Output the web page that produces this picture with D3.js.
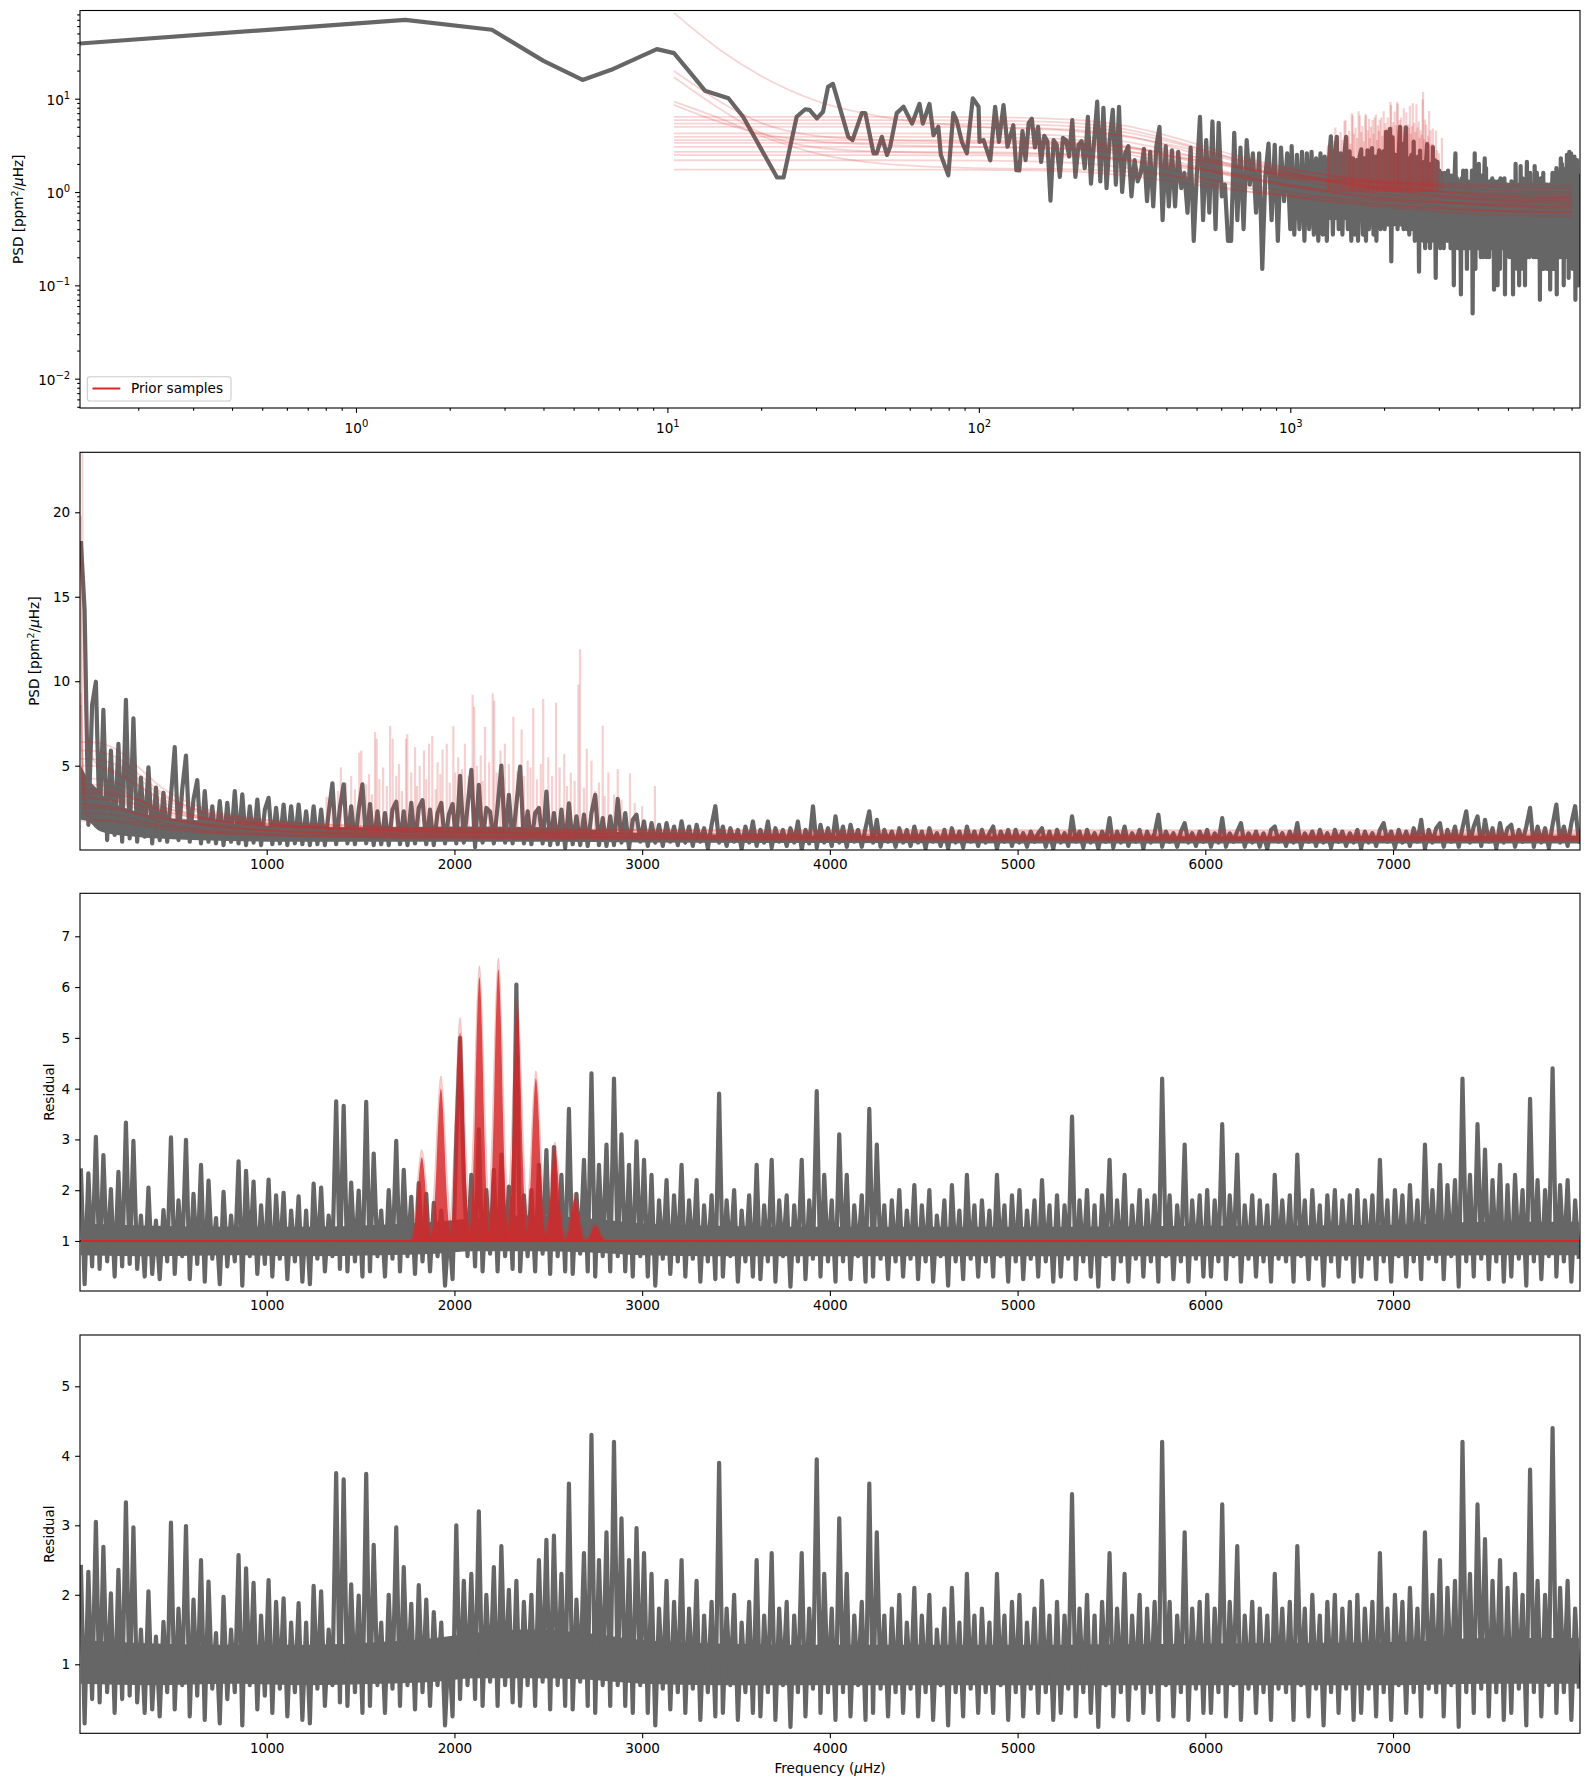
<!DOCTYPE html>
<html>
<head>
<meta charset="utf-8">
<title>PSD with prior samples</title>
<script src="https://d3js.org/d3.v7.min.js"></script>
<style>
  body { margin: 0; background: #ffffff; }
  svg text { font-family: "DejaVu Sans", sans-serif; font-size: 13.6px; fill: #000; }
</style>
</head>
<body>
<svg id="chart" width="1590" height="1790"></svg>
<script>
// ---------------- DATA ----------------
// low-frequency part of the spectrum, as seen on the log-log panel
const lowFreq = [0.13, 1.44, 2.73, 4.0, 5.34, 6.6, 9.25, 10.5, 12.0, 13.2, 15.7, 17.5, 22.5, 23.6, 26.0, 27.7,
  28.6, 30.2, 31.6, 32.8, 34.0, 38.1, 39.3, 42.1, 43.2, 45.9, 47.0, 48.8, 50.7, 51.9, 54.5, 57.3, 61.0, 64.5,
  66.1, 69.4, 71.5, 74.1, 75.5, 79.8, 82.8, 84.8, 88.2, 91.5, 95.6, 99.8, 100.5, 103.5, 108.8, 112.8, 116,
  120, 123.6, 129, 132];
const lowPsd = [39, 70, 54.8, 25.4, 15.9, 20.4, 34, 30.8, 18, 12.2, 10.1, 6.4, 1.43, 1.43, 6.4, 7.7,
  7.6, 6.15, 7.25, 13.4, 14.4, 3.9, 3.6, 7.0, 7.0, 2.6, 2.6, 3.9, 2.5, 3.06, 7.0, 8.2, 5.4, 8.8,
  5.4, 8.8, 4.07, 5.0, 2.5, 1.51, 7.0, 5.9, 3.45, 2.6, 10.1, 8.2, 3.45, 3.6, 2.19, 8.2, 3.45,
  8.55, 3.06, 5.2, 1.71];

// 135 - 1000 uHz on a log grid (log10 f = 2.13, 2.14, ... 3.00), log panel only
const midLogStart = 2.13, midLogStep = 0.01;
const midPsd = [1.7, 4.5, 2.2, 5.5, 6.1, 3.0, 5.0, 2.1, 4.0, 3.5, 0.81, 3.6, 3.2, 1.45, 3.8, 3.6, 2.4, 5.9,
  1.45, 3.2, 3.5, 1.8, 6.4, 1.23, 3.5,
  9.3, 1.3, 8.0, 1.1, 3.6, 7.6, 1.2, 8.2, 1.0, 2.6, 3.1, 0.9, 2.2, 1.3, 1.6, 2.9, 0.8, 2.7, 0.7, 3.1, 5.0,
  0.5, 3.1, 0.7, 2.8, 0.7, 2.7, 1.1, 1.6, 0.6, 3.0, 0.3, 1.6, 6.4, 0.5, 3.6, 0.6, 5.7, 0.4, 5.5, 0.9, 1.2,
  0.3, 0.3, 4.3, 0.5, 3.0, 0.4, 3.6, 1.2, 2.6, 0.6, 2.6, 0.15, 1.5, 3.3, 0.5, 3.2, 0.3, 3.0, 0.8, 2.6, 0.4];

// spectrum sampled every 20 uHz from 10 uHz
const gridStart = 10, gridStep = 20;
const psd = [
  18.3, 14.2, 1.5, 8.6, 9.97, 1.4, 8.3, 0.6, 5.9, 0.9, 6.3, 0.5, 8.9, 0.7, 7.8, 0.5, 4.3, 0.8, 4.9, 0.4,
  3.7, 0.6, 3.4, 0.5, 3.2, 6.1, 0.6, 3.6, 5.6, 0.5, 3.0, 4.15, 0.4, 3.5, 0.5, 2.6, 0.4, 2.9, 0.3, 2.8,
  0.5, 3.5, 0.4, 3.3, 0.3, 2.6, 0.45, 3.0, 0.3, 2.4, 3.1, 0.35, 2.5, 0.4, 2.7, 0.3, 2.6, 0.4, 2.7, 0.35,
  2.3, 0.3, 2.6, 0.35, 2.4, 0.3, 2.2, 3.96, 0.35, 2.5, 3.9, 0.4, 2.6, 0.35, 2.4, 3.9, 0.4, 2.73, 0.3, 2.3,
  0.35, 2.2, 0.3, 2.4, 2.87, 0.35, 2.3, 0.3, 2.8, 0.4, 2.5, 2.96, 0.35, 2.4, 0.3, 2.2, 2.8, 0.4, 2.1, 2.73,
  0.4, 4.4, 0.45, 2.6, 4.75, 0.18, 3.86, 0.45, 2.5, 2.28, 0.4, 2.6, 5.0, 0.45, 3.27, 0.4, 2.7, 4.94, 0.4, 2.3,
  0.35, 2.2, 2.5, 0.4, 3.46, 0.3, 2.2, 0.35, 2.4, 0.14, 2.77, 0.35, 2.0, 0.3, 2.1, 0.25, 2.2, 3.27, 0.3, 1.9,
  0.25, 2.0, 0.3, 3.03, 0.45, 2.2, 0.12, 1.8, 2.1, 0.5, 1.7, 0.25, 1.6, 0.45, 1.5, 0.25, 1.6, 0.5, 1.4, 0.3,
  1.7, 0.45, 1.4, 0.25, 1.5, 0.5, 1.3, 0.1, 1.5, 2.6, 0.45, 1.4, 0.25, 1.3, 0.5, 1.2, 0.08, 1.4, 0.45, 1.7,
  0.25, 1.2, 0.45, 1.7, 0.15, 1.3, 0.5, 1.2, 0.25, 1.3, 0.45, 1.7, 0.05, 1.2, 0.4, 2.6, 0.15, 1.5, 0.45, 1.3,
  0.25, 2.0, 0.45, 1.4, 0.2, 1.5, 0.5, 1.2, 0.2, 1.3, 2.3, 0.45, 1.8, 0.2, 1.2, 0.5, 1.1, 0.2, 1.3, 0.45,
  1.2, 0.25, 1.4, 0.45, 1.1, 0.09, 1.3, 0.5, 1.0, 0.25, 1.2, 0.1, 1.3, 0.45, 1.1, 0.15, 1.4, 0.5, 1.1, 0.25,
  1.2, 0.45, 1.0, 1.4, 0.08, 1.1, 0.5, 1.2, 0.25, 1.2, 0.45, 1.0, 0.2, 1.1, 0.5, 1.0, 1.3, 0.2, 1.1, 0.08,
  1.2, 0.45, 1.0, 0.25, 2.0, 0.5, 1.1, 0.15, 1.2, 0.45, 1.0, 0.1, 1.1, 0.5, 1.9, 0.15, 1.1, 0.45, 1.4, 0.25,
  1.0, 0.5, 1.2, 0.1, 1.1, 0.45, 1.0, 2.1, 0.2, 1.1, 0.5, 1.0, 0.2, 1.1, 1.6, 0.45, 1.0, 0.25, 1.1, 0.5,
  1.2, 0.2, 1.0, 0.45, 1.9, 0.2, 1.0, 0.5, 1.1, 1.6, 0.2, 1.0, 0.45, 1.1, 0.2, 1.0, 0.07, 1.2, 1.4, 0.5,
  1.0, 0.25, 1.1, 0.45, 1.6, 0.15, 1.0, 0.5, 1.1, 0.25, 1.2, 0.45, 1.0, 0.15, 1.2, 0.5, 1.1, 0.25, 1.0, 0.45,
  1.2, 0.09, 1.1, 0.45, 1.0, 0.25, 1.2, 1.6, 0.5, 1.1, 0.15, 1.2, 0.45, 1.1, 0.25, 1.3, 0.5, 1.8, 0.08, 1.2,
  0.45, 1.3, 1.6, 0.2, 1.2, 0.5, 1.4, 0.2, 1.3, 2.3, 0.45, 1.4, 2.0, 0.25, 1.8, 0.5, 1.3, 0.1, 1.6, 0.45,
  1.3, 1.5, 0.2, 1.2, 0.5, 1.4, 2.5, 0.2, 1.4, 0.45, 1.3, 0.12, 1.5, 2.7, 0.45, 1.4, 0.25, 1.6, 2.6, 0.5,
  1.4, 0.45, 2.3, 0.15, 1.3, 0.5, 1.5, 0.25, 2.4, 0.45, 1.2, 0.07, 1.6, 0.5, 1.3, 0.15, 2.2, 0.45, 1.4, 0.1,
  1.3, 0.5, 1.5, 0.2, 1.2];

// dense core of the PSD band (where the trace is solid grey)
const psdCoreFreq = [10, 50, 100, 150, 200, 300, 400, 600, 800, 1000, 1500, 2000, 2500, 3000, 4000, 5000, 6000, 7000, 8000, 8500];
const psdCoreLo = [1.8, 1.7, 1.2, 1.0, 0.9, 0.8, 0.7, 0.6, 0.55, 0.5, 0.5, 0.5, 0.5, 0.45, 0.42, 0.4, 0.4, 0.4, 0.4, 0.4];
const psdCoreHi = [5.0, 4.2, 3.6, 3.0, 2.7, 2.3, 2.0, 1.8, 1.6, 1.45, 1.35, 1.4, 1.35, 1.0, 0.85, 0.82, 0.82, 0.85, 0.85, 0.85];

// residual (same 20 uHz grid), panels 3 and 4
const residual = [
  2.43, 0.15, 2.33, 0.5, 3.05, 0.45, 2.69, 0.6, 2.02, 0.3, 2.36, 0.5, 3.33, 0.55, 2.97, 0.45, 1.5, 0.3, 2.05, 0.35,
  1.4, 0.25, 1.61, 0.6, 3.04, 0.35, 1.8, 0.7, 2.99, 0.25, 1.93, 0.55, 2.5, 0.2, 2.19, 0.65, 1.45, 0.15, 1.97, 0.5,
  1.5, 0.6, 2.57, 0.12, 2.38, 0.7, 2.17, 0.35, 1.7, 0.55, 2.21, 0.3, 1.9, 0.65, 1.95, 0.25, 1.6, 0.6, 1.88, 0.2,
  1.6, 0.15, 2.13, 0.65, 2.05, 0.4, 1.5, 0.7, 3.75, 0.45, 3.66, 0.4, 2.15, 0.6, 1.99, 0.3, 3.74, 0.4, 2.72, 0.7,
  1.6, 0.3, 2.0, 0.65, 2.97, 0.4, 2.4, 0.7, 1.87, 0.35, 2.14, 0.6, 1.93, 0.4, 1.75, 0.7, 1.6, 0.12, 1.3, 0.25,
  3.0, 0.5, 2.2, 0.7, 2.3, 0.5, 3.2, 0.4, 2.0, 0.75, 2.4, 0.4, 2.7, 0.7, 2.07, 0.45, 2.2, 0.4, 1.9, 0.7,
  2.0, 0.4, 2.5, 0.75, 2.79, 0.35, 2.85, 0.7, 2.3, 0.4, 3.6, 0.35, 1.93, 0.75, 2.6, 0.4, 4.3, 0.3, 2.5, 0.7,
  2.9, 0.4, 4.2, 0.7, 3.1, 0.4, 2.5, 0.3, 2.96, 0.7, 2.6, 0.3, 2.3, 0.12, 1.8, 0.65, 2.2, 0.35, 1.9, 0.6,
  2.5, 0.3, 1.8, 0.65, 2.2, 0.2, 1.7, 0.6, 1.9, 0.25, 3.9, 0.3, 1.8, 0.7, 2.0, 0.2, 1.6, 0.6, 1.9, 0.3,
  2.5, 0.25, 1.7, 0.6, 2.6, 0.2, 1.8, 0.7, 1.9, 0.1, 1.7, 0.6, 2.6, 0.25, 1.8, 0.65, 3.95, 0.3, 2.3, 0.6,
  1.8, 0.2, 3.1, 0.6, 2.3, 0.25, 1.7, 0.7, 1.9, 0.2, 3.6, 0.3, 2.9, 0.65, 1.7, 0.25, 1.8, 0.6, 2.0, 0.3,
  1.6, 0.65, 2.1, 0.25, 1.7, 0.6, 2.0, 0.2, 1.5, 0.7, 1.8, 0.12, 2.1, 0.6, 1.6, 0.25, 2.3, 0.65, 1.7, 0.3,
  1.8, 0.6, 1.6, 0.3, 2.3, 0.7, 1.7, 0.2, 1.9, 0.6, 2.0, 0.25, 1.6, 0.65, 1.8, 0.3, 2.2, 0.6, 1.7, 0.2,
  1.9, 0.3, 1.7, 0.65, 3.45, 0.25, 1.8, 0.6, 2.0, 0.3, 1.7, 0.1, 1.9, 0.7, 2.6, 0.25, 1.8, 0.6, 2.3, 0.2,
  1.7, 0.65, 2.0, 0.3, 1.8, 0.6, 1.9, 0.2, 4.2, 0.7, 1.9, 0.25, 1.7, 0.6, 2.9, 0.2, 1.8, 0.65, 1.9, 0.3,
  2.0, 0.3, 1.8, 0.6, 3.3, 0.25, 1.9, 0.7, 2.7, 0.2, 1.7, 0.65, 1.9, 0.3, 1.8, 0.6, 1.7, 0.2, 2.3, 0.65,
  1.8, 0.6, 1.9, 0.2, 2.7, 0.7, 1.8, 0.25, 2.0, 0.65, 1.7, 0.12, 1.9, 0.6, 2.0, 0.3, 1.8, 0.65, 1.9, 0.2,
  2.0, 0.3, 1.8, 0.65, 1.9, 0.25, 2.6, 0.6, 1.8, 0.2, 2.0, 0.7, 1.9, 0.3, 2.1, 0.6, 1.8, 0.25, 2.9, 0.65,
  2.0, 0.6, 2.5, 0.25, 2.1, 0.7, 2.2, 0.1, 4.2, 0.6, 2.3, 0.3, 3.3, 0.65, 2.8, 0.25, 2.2, 0.6, 2.5, 0.2,
  2.1, 0.3, 2.3, 0.65, 2.0, 0.12, 3.8, 0.6, 2.2, 0.25, 2.0, 0.7, 4.4, 0.3, 2.1, 0.6, 2.2, 0.2, 1.8, 0.65];

// dense core of the residual band
const residCoreFreq = [10, 400, 800, 1200, 1600, 1900, 2100, 2400, 2700, 3000, 3400, 4000, 5000, 6000, 7000, 7500, 7990];
const residCoreLo = [0.72, 0.7, 0.72, 0.7, 0.72, 0.75, 0.8, 0.8, 0.78, 0.72, 0.7, 0.7, 0.7, 0.7, 0.7, 0.72, 0.72];
const residCoreHi = [1.35, 1.3, 1.28, 1.28, 1.32, 1.38, 1.45, 1.5, 1.45, 1.35, 1.3, 1.28, 1.28, 1.3, 1.32, 1.38, 1.38];

// residual peaks that only appear in panel 3 (before the mode model is divided out)
const panel3PeakFreq = [2030, 2330];
const panel3PeakVal = [5.0, 6.05];

// prior samples of the background model, given at these frequencies
const bgKnots = [10.5, 15, 20, 30, 50, 100, 200, 300, 450, 650, 1000, 1500, 2500, 4000, 8000];
const bgSamples = [
  [83, 32, 17.5, 9.5, 6.3, 5.0, 4.5, 3.9, 3.0, 2.2, 1.6, 1.2, 0.95, 0.85, 0.8],
  [19.8, 9.0, 5.5, 4.0, 3.6, 3.45, 3.3, 3.0, 2.5, 2.0, 1.55, 1.25, 1.05, 0.98, 0.95],
  [17, 7.5, 4.3, 3.0, 2.7, 2.6, 2.5, 2.25, 1.9, 1.55, 1.2, 0.95, 0.8, 0.73, 0.7],
  [9.3, 6.0, 4.0, 2.6, 2.0, 1.8, 1.75, 1.65, 1.45, 1.25, 1.0, 0.82, 0.7, 0.63, 0.6],
  [8.6, 5.5, 4.2, 3.5, 3.2, 3.05, 2.95, 2.7, 2.3, 1.9, 1.5, 1.2, 0.98, 0.89, 0.85],
  [6.4, 6.4, 6.4, 6.4, 6.4, 6.35, 5.96, 5.07, 3.63, 2.52, 1.79, 1.41, 1.1, 0.93, 0.85],
  [5.9, 5.9, 5.9, 5.9, 5.9, 5.85, 5.49, 4.66, 3.33, 2.30, 1.63, 1.27, 0.98, 0.83, 0.75],
  [5.4, 5.4, 5.4, 5.4, 5.4, 5.36, 5.05, 4.34, 3.2, 2.32, 1.75, 1.44, 1.2, 1.07, 1.0],
  [5.0, 5.0, 5.0, 5.0, 5.0, 4.96, 4.65, 3.96, 2.83, 1.96, 1.4, 1.09, 0.86, 0.73, 0.66],
  [4.25, 4.25, 4.25, 4.25, 4.25, 4.22, 3.98, 3.45, 2.58, 1.91, 1.47, 1.24, 1.05, 0.95, 0.9],
  [3.9, 3.9, 3.9, 3.9, 3.9, 3.87, 3.64, 3.11, 2.25, 1.59, 1.16, 0.93, 0.75, 0.65, 0.6],
  [3.6, 3.6, 3.6, 3.6, 3.6, 3.58, 3.4, 3.0, 2.35, 1.85, 1.53, 1.35, 1.21, 1.14, 1.1],
  [3.37, 3.37, 3.37, 3.37, 3.37, 3.34, 3.16, 2.73, 2.04, 1.5, 1.15, 0.97, 0.82, 0.74, 0.7],
  [3.05, 3.05, 3.05, 3.05, 3.05, 3.03, 2.87, 2.51, 1.93, 1.48, 1.18, 1.03, 0.9, 0.83, 0.8],
  [2.69, 2.69, 2.69, 2.69, 2.69, 2.67, 2.52, 2.18, 1.62, 1.19, 0.91, 0.76, 0.65, 0.58, 0.55],
  [2.48, 2.48, 2.48, 2.48, 2.48, 2.47, 2.38, 2.17, 1.83, 1.57, 1.4, 1.31, 1.24, 1.2, 1.18],
  [2.19, 2.19, 2.19, 2.19, 2.19, 2.17, 2.06, 1.81, 1.41, 1.09, 0.89, 0.78, 0.69, 0.64, 0.62],
  [1.74, 1.74, 1.74, 1.74, 1.74, 1.73, 1.66, 1.5, 1.25, 1.05, 0.92, 0.85, 0.79, 0.76, 0.75]
];

// oscillation mode spikes of the prior samples (panels 1 and 2)
const spikeBase = 1.0;
const spikeFreq = [1319, 1331, 1350, 1380, 1395, 1422, 1450, 1470, 1493, 1504, 1530, 1545, 1560, 1577, 1586,
  1600, 1620, 1640, 1657, 1671, 1690, 1705, 1720, 1742, 1749, 1770, 1790, 1800, 1815, 1838, 1850, 1865, 1882,
  1900, 1910, 1925, 1937, 1959, 1975, 1994, 2005, 2020, 2040, 2056, 2075, 2097, 2106, 2120, 2140, 2150, 2163,
  2185, 2204, 2212, 2225, 2245, 2260, 2269, 2290, 2314, 2335, 2358, 2370, 2390, 2405, 2420, 2440, 2460, 2473,
  2500, 2520, 2541, 2560, 2585, 2600, 2620, 2640, 2660, 2669, 2690, 2705, 2730, 2750, 2770, 2790, 2800, 2820,
  2850, 2870, 2890, 2935, 2960, 3000, 3068];
const spikeHeight = [3.17, 3.1, 2.8, 3.5, 4.9, 4.0, 4.4, 3.6, 5.77, 5.9, 3.9, 4.5, 3.3, 7.0, 6.6,
  4.2, 4.9, 3.8, 7.35, 6.6, 4.4, 5.1, 3.5, 6.6, 6.86, 4.6, 6.1, 3.8, 5.0, 5.9, 4.2, 6.3, 6.76,
  3.6, 5.2, 4.5, 5.95, 6.3, 4.0, 7.35, 4.6, 5.5, 4.8, 6.3, 4.4, 9.2, 8.5, 5.0, 5.6, 4.1, 7.3,
  5.2, 9.28, 8.85, 4.6, 5.9, 4.3, 6.3, 5.1, 7.9, 4.7, 7.15, 4.4, 5.3, 4.9, 8.4, 4.2, 5.1, 8.95,
  5.5, 4.4, 8.73, 4.9, 5.7, 3.8, 4.6, 4.1, 9.8, 11.9, 3.7, 6.0, 5.3, 3.5, 4.0, 7.37, 3.2, 4.6,
  3.3, 4.8, 3.0, 4.55, 2.8, 2.6, 3.8];

// mode clusters in the residual panel
const modeFreq = [1826, 1928, 2030, 2133, 2234, 2335, 2434, 2535, 2642, 2751];
const modeHeight = [2.65, 4.0, 5.1, 6.2, 6.35, 5.6, 4.2, 2.8, 1.85, 1.3];
const modeUpper = [2.8, 4.25, 5.4, 6.42, 6.57, 5.75, 4.35, 2.95, 1.95, 1.36];
const modeProfileOffset = [-55, -48, -40, -32, -24, -16, -8, 0, 8, 16, 24, 32, 40, 48, 55];
const modeProfileFrac = [0, 0.05, 0.13, 0.28, 0.48, 0.73, 0.92, 1, 0.92, 0.73, 0.48, 0.28, 0.13, 0.05, 0];

// ticks
const linTicks = [1000, 2000, 3000, 4000, 5000, 6000, 7000];
const yTicks2 = [5, 10, 15, 20];
const yTicks3 = [1, 2, 3, 4, 5, 6, 7];
const yTicks4 = [1, 2, 3, 4, 5];
const logXMajor = [1, 10, 100, 1000];
const logXLabels = ["0", "1", "2", "3"];
const logYMajor = [0.01, 0.1, 1, 10];
const logYLabels = ["\u22122", "\u22121", "0", "1"];
const decades = [0.001, 0.01, 0.1, 1, 10, 100, 1000];
const minorMult = [2, 3, 4, 5, 6, 7, 8, 9];

// ---------------- LAYOUT ----------------
const svg = d3.select("#chart");
const left = 80, right = 1580;
const frames = [
  { top: 10.5, bottom: 408 },
  { top: 452.3, bottom: 850 },
  { top: 893.3, bottom: 1291 },
  { top: 1335, bottom: 1733.3 }
];
const gray = "#666666", red = "#d62728";

const x1 = d3.scaleLog().domain([0.13, 8515]).range([left, right]);
const y1 = d3.scaleLog().domain([0.00485, 88.1]).range([frames[0].bottom, frames[0].top]);
const xL = d3.scaleLinear().domain([5.4, 7996]).range([left, right]);
const y2 = d3.scaleLinear().domain([0.01, 23.55]).range([frames[1].bottom, frames[1].top]);
const y3 = d3.scaleLinear().domain([0.015, 7.847]).range([frames[2].bottom, frames[2].top]);
const y4 = d3.scaleLinear().domain([0.007, 5.738]).range([frames[3].bottom, frames[3].top]);

const defs = svg.append("defs");
frames.forEach((f, i) => {
  defs.append("clipPath").attr("id", "clip" + i)
    .append("rect").attr("x", left).attr("y", f.top)
    .attr("width", right - left).attr("height", f.bottom - f.top);
});
const layer = i => svg.append("g").attr("clip-path", `url(#clip${i})`);

const gridPts = arr => arr.map((v, i) => [gridStart + i * gridStep, v]);

function drawTrace(g, pts, xs, ys) {
  g.append("path").attr("d", d3.line().x(d => xs(d[0])).y(d => ys(d[1]))(pts))
    .attr("fill", "none").attr("stroke", gray).attr("stroke-width", 4.2).attr("stroke-linejoin", "round");
}
function drawCore(g, freq, lo, hi, xs, ys, minF) {
  const pts = freq.map((f, i) => [f, lo[i], hi[i]]).filter(d => d[0] >= minF);
  g.append("path").attr("d", d3.area().x(d => xs(d[0])).y0(d => ys(d[1])).y1(d => ys(d[2]))
      .curve(d3.curveMonotoneX)(pts)).attr("fill", gray);
}

// ---------------- PANEL 1 : log-log ----------------
const p1 = layer(0);
const p1data = lowFreq.map((f, i) => [f, lowPsd[i]])
  .concat(midPsd.map((v, i) => [Math.pow(10, midLogStart + i * midLogStep), v]))
  .concat(gridPts(psd).filter(d => d[0] > 1000));
drawCore(p1, psdCoreFreq, psdCoreLo, psdCoreHi, x1, y1, 1000);
drawTrace(p1, p1data, x1, y1);

const bgLine1 = d3.line().x((v, i) => x1(bgKnots[i])).y(v => y1(v)).curve(d3.curveMonotoneX);
p1.selectAll("path.bg").data(bgSamples).join("path").attr("class", "bg")
  .attr("d", d => bgLine1(d)).attr("fill", "none").attr("stroke", red)
  .attr("stroke-opacity", 0.2).attr("stroke-width", 1.8);
p1.selectAll("line.spike").data(spikeFreq).join("line").attr("class", "spike")
  .attr("x1", d => x1(d)).attr("x2", d => x1(d))
  .attr("y1", y1(spikeBase)).attr("y2", (d, i) => y1(spikeHeight[i]))
  .attr("stroke", red).attr("stroke-opacity", 0.22).attr("stroke-width", 2.2);

// ---------------- PANEL 2 : linear PSD ----------------
const p2 = layer(1);
drawCore(p2, psdCoreFreq, psdCoreLo, psdCoreHi, xL, y2, 0);
drawTrace(p2, gridPts(psd), xL, y2);
const bgLine2 = d3.line().x((v, i) => xL(bgKnots[i])).y(v => y2(v)).curve(d3.curveMonotoneX);
p2.selectAll("path.bg").data(bgSamples).join("path").attr("class", "bg")
  .attr("d", d => bgLine2(d)).attr("fill", "none").attr("stroke", red)
  .attr("stroke-opacity", 0.2).attr("stroke-width", 1.8);
p2.selectAll("line.spike").data(spikeFreq).join("line").attr("class", "spike")
  .attr("x1", d => xL(d)).attr("x2", d => xL(d))
  .attr("y1", y2(spikeBase)).attr("y2", (d, i) => y2(spikeHeight[i]))
  .attr("stroke", red).attr("stroke-opacity", 0.22).attr("stroke-width", 2.2);

// ---------------- PANEL 3 : residual with modes ----------------
const p3 = layer(2);
const resid3 = residual.slice();
panel3PeakFreq.forEach((f, i) => { resid3[Math.round((f - gridStart) / gridStep)] = panel3PeakVal[i]; });
drawCore(p3, residCoreFreq, residCoreLo, residCoreHi, xL, y3, 0);
drawTrace(p3, gridPts(resid3), xL, y3);
p3.append("line").attr("x1", left).attr("x2", right).attr("y1", y3(1)).attr("y2", y3(1))
  .attr("stroke", red).attr("stroke-width", 2.2);
const modeLine = d3.line().x(d => xL(d[0])).y(d => y3(d[1])).curve(d3.curveMonotoneX);
const modeShape = (m, h, widen) => modeProfileOffset.map((o, i) =>
  [modeFreq[m] + o * widen, 1 + (h - 1) * modeProfileFrac[i]]);
modeFreq.forEach((f, m) => {
  p3.append("path").attr("d", modeLine(modeShape(m, modeUpper[m], 1.25)))
    .attr("fill", red).attr("fill-opacity", 0.22).attr("stroke", red)
    .attr("stroke-opacity", 0.15).attr("stroke-width", 1);
  p3.append("path").attr("d", modeLine(modeShape(m, modeHeight[m], 1.0)))
    .attr("fill", red).attr("fill-opacity", 0.8);
});

// ---------------- PANEL 4 : residual ----------------
const p4 = layer(3);
drawCore(p4, residCoreFreq, residCoreLo, residCoreHi, xL, y4, 0);
drawTrace(p4, gridPts(residual), xL, y4);

// ---------------- AXES ----------------
frames.forEach(f => {
  svg.append("rect").attr("x", left).attr("y", f.top).attr("width", right - left)
    .attr("height", f.bottom - f.top).attr("fill", "none").attr("stroke", "#000").attr("stroke-width", 1.1);
});

function cleanAxis(g) {
  g.attr("font-size", null).attr("font-family", null);
  g.select(".domain").remove();
  g.selectAll(".tick line").attr("stroke-width", 1.1);
}

// linear x axes (panels 2-4)
[1, 2, 3].forEach(i => {
  const g = svg.append("g").attr("transform", `translate(0,${frames[i].bottom})`)
    .call(d3.axisBottom(xL).tickValues(linTicks).tickSize(4.9).tickPadding(4.9).tickSizeOuter(0).tickFormat(d3.format("d")));
  cleanAxis(g);
});
// linear y axes
[[y2, yTicks2], [y3, yTicks3], [y4, yTicks4]].forEach(([sc, tv]) => {
  const g = svg.append("g").attr("transform", `translate(${left},0)`)
    .call(d3.axisLeft(sc).tickValues(tv).tickSize(4.9).tickPadding(4.9).tickSizeOuter(0).tickFormat(d3.format("d")));
  cleanAxis(g);
});

// log axes (panel 1)
const minorOf = (lo, hi) => {
  const out = [];
  decades.forEach(d => minorMult.forEach(m => { const v = d * m; if (v >= lo && v <= hi) out.push(v); }));
  return out;
};
const gx1 = svg.append("g").attr("transform", `translate(0,${frames[0].bottom})`)
  .call(d3.axisBottom(x1).tickValues(logXMajor).tickSize(4.9).tickPadding(4.9).tickSizeOuter(0).tickFormat(() => ""));
cleanAxis(gx1);
gx1.selectAll(".tick text").each(function (d, i) {
  const t = d3.select(this).attr("y", 15.6);
  t.append("tspan").text("10");
  t.append("tspan").attr("font-size", 10).attr("dy", -6).text(logXLabels[i]);
});
const gx1m = svg.append("g").attr("transform", `translate(0,${frames[0].bottom})`)
  .call(d3.axisBottom(x1).tickValues(minorOf(0.13, 8515)).tickSize(2.8).tickSizeOuter(0).tickFormat(() => ""));
cleanAxis(gx1m);

const gy1 = svg.append("g").attr("transform", `translate(${left},0)`)
  .call(d3.axisLeft(y1).tickValues(logYMajor).tickSize(4.9).tickPadding(4.9).tickSizeOuter(0).tickFormat(() => ""));
cleanAxis(gy1);
gy1.selectAll(".tick text").each(function (d, i) {
  const t = d3.select(this).attr("dy", 5.6);
  t.append("tspan").text("10");
  t.append("tspan").attr("font-size", 10).attr("dy", -6).text(logYLabels[i]);
});
const gy1m = svg.append("g").attr("transform", `translate(${left},0)`)
  .call(d3.axisLeft(y1).tickValues(minorOf(0.00485, 88.1)).tickSize(2.8).tickSizeOuter(0).tickFormat(() => ""));
cleanAxis(gy1m);

// ---------------- LABELS ----------------
function psdLabel(x, cy) {
  const t = svg.append("text").attr("transform", `translate(${x},${cy}) rotate(-90)`).attr("text-anchor", "middle");
  t.append("tspan").text("PSD [ppm");
  t.append("tspan").attr("font-size", 9.5).attr("dy", -5.5).text("2");
  t.append("tspan").attr("dy", 5.5).text("/");
  t.append("tspan").attr("font-style", "italic").text("\u03bc");
  t.append("tspan").text("Hz]");
}
psdLabel(23.3, (frames[0].top + frames[0].bottom) / 2);
psdLabel(39.3, (frames[1].top + frames[1].bottom) / 2);
[2, 3].forEach(i => {
  svg.append("text").attr("transform", `translate(53.5,${(frames[i].top + frames[i].bottom) / 2}) rotate(-90)`)
    .attr("text-anchor", "middle").text("Residual");
});
const xl = svg.append("text").attr("x", (left + right) / 2).attr("y", 1773).attr("text-anchor", "middle");
xl.append("tspan").text("Frequency (");
xl.append("tspan").attr("font-style", "italic").text("\u03bc");
xl.append("tspan").text("Hz)");

// legend
const lg = svg.append("g");
lg.append("rect").attr("x", 87.3).attr("y", 376.7).attr("width", 143.7).attr("height", 24.3).attr("rx", 2.8)
  .attr("fill", "#fff").attr("fill-opacity", 0.8).attr("stroke", "#cccccc").attr("stroke-width", 1.1);
lg.append("line").attr("x1", 92.5).attr("x2", 120.3).attr("y1", 388.5).attr("y2", 388.5)
  .attr("stroke", red).attr("stroke-width", 2);
lg.append("text").attr("x", 131).attr("y", 393).text("Prior samples");
</script>
</body>
</html>
